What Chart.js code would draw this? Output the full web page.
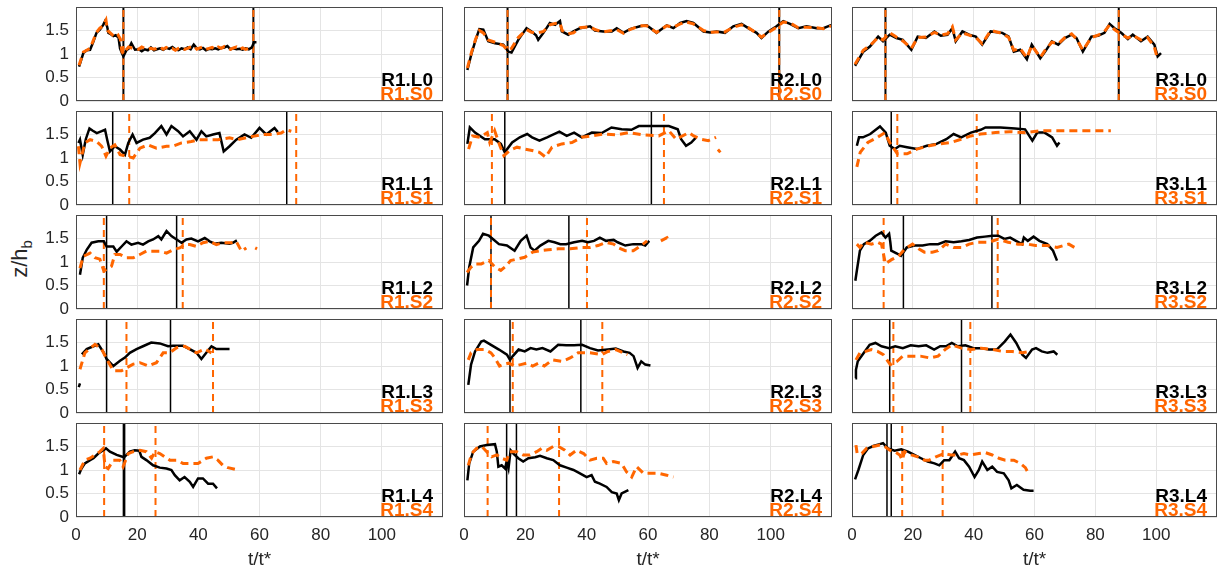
<!DOCTYPE html>
<html>
<head>
<meta charset="utf-8">
<script src="https://cdn.jsdelivr.net/npm/chart.js@4.4.1/dist/chart.umd.min.js"></script>
<style>
  body { margin: 0; background: #fff; }
  #wrap { position: relative; width: 1218px; height: 572px; overflow: hidden; font-family: "Liberation Sans", Arial, sans-serif; }
  #wrap canvas { position: absolute; }
  #ylab { position: absolute; left: 21px; top: 259px; transform: translate(-50%, -50%) rotate(-90deg); white-space: nowrap; font-size: 22px; color: #262626; }
  #ylab sub { font-size: 15px; }
</style>
</head>
<body>
<div id="wrap"><div id="ylab">z/h<sub>b</sub></div></div>
<script>
// axis ticks
const xTicks = [0, 20, 40, 60, 80, 100];
const yTicks = [0, 0.5, 1, 1.5];
const xMax = 120, yMax = 2;

// ---- R1 (left column) ----
const r1L0 = [[1,0.73],[2.4,1.02],[3.5,1.08],[4.6,1.09],[5.6,1.25],[6.7,1.45],[7.8,1.52],[8.9,1.62],[9.5,1.7],[10.2,1.58],[10.6,1.45],[11.4,1.42],[12.2,1.38],[13,1.4],[13.9,1.35],[14.4,1.12],[15,1.02],[15.5,0.95],[16.5,1.08],[17.3,1.12],[18.1,1.23],[19.3,1.09],[20.5,1.1],[21.5,1.06],[22.5,1.1],[23.5,1.08],[24.5,1.14],[25.5,1.08],[26.5,1.1],[27.5,1.12],[28.5,1.09],[29.5,1.13],[30.5,1.11],[31.5,1.15],[32.5,1.1],[33.5,1.08],[34.5,1.12],[35.5,1.1],[36.5,1.14],[37.5,1.1],[38.5,1.2],[39.5,1.12],[40.5,1.1],[41.5,1.13],[42.5,1.08],[43.5,1.11],[44.5,1.1],[45.5,1.12],[46.5,1.1],[47.5,1.13],[48.5,1.14],[49.5,1.17],[50.5,1.1],[51.5,1.12],[52.5,1.1],[53.5,1.11],[54.5,1.09],[55.5,1.12],[56.5,1.1],[57.5,1.14],[58.2,1.25],[59,1.25]];
const r1S0 = [[1,0.76],[2.4,1.04],[3.5,1.08],[4.6,1.12],[5.6,1.28],[6.7,1.46],[7.8,1.55],[8.9,1.6],[9.8,1.72],[10.3,1.5],[11.2,1.45],[12,1.4],[13,1.35],[13.8,1.4],[14.5,1.32],[15,1.05],[15.6,1.0],[16.2,1.08],[17.2,1.15],[18.5,1.12],[19.5,1.12],[20.5,1.1],[21.5,1.15],[22.5,1.12],[23.5,1.1],[24.5,1.12],[25.5,1.1],[26.5,1.12],[27.5,1.15],[28.5,1.1],[29.5,1.14],[30.5,1.1],[31.5,1.12],[32.5,1.08],[33.5,1.12],[34.5,1.14],[35.5,1.1],[36.5,1.12],[37.5,1.15],[38.5,1.17],[39.5,1.1],[40.5,1.13],[41.5,1.15],[42.5,1.1],[43.5,1.12],[44.5,1.14],[45.5,1.1],[46.5,1.15],[47.5,1.12],[48.5,1.16],[49.5,1.12],[50.5,1.1],[51.5,1.13],[52.5,1.15],[53.5,1.1],[54.5,1.13],[55.5,1.1],[56.5,1.12],[57.5,1.16]];
const r1L0v = [15.5, 58];
const r1S0v = [15.5, 58];

const r1L1 = [[0.8,1.32],[1.3,1.39],[2.2,1.07],[3.2,1.4],[4.4,1.63],[5.5,1.58],[6.8,1.53],[8.4,1.57],[9.5,1.6],[10.2,1.39],[11.1,1.14],[12.7,1.25],[14.4,1.18],[16,1.07],[17.1,1.32],[18.5,1.5],[19.8,1.32],[21.9,1.39],[24.1,1.43],[25.8,1.53],[27.9,1.68],[29.6,1.5],[31.2,1.68],[33.4,1.57],[35,1.46],[37.2,1.57],[39.4,1.39],[41,1.57],[42.6,1.46],[44.8,1.5],[46.9,1.53],[48.3,1.14],[50.2,1.25],[52.4,1.39],[55.1,1.5],[57.3,1.43],[60,1.64],[62.2,1.5],[64.9,1.64],[66,1.55]];
const r1S1 = [[0.8,1.25],[1.3,0.89],[2.9,1.32],[4.6,1.39],[6.8,1.35],[8.4,1.25],[9.8,1.04],[11.1,1.21],[12.7,1.28],[14.4,1.07],[16.5,1.04],[18.7,1.0],[20.9,1.21],[23.6,1.28],[26.3,1.21],[29.6,1.25],[31.7,1.25],[34.5,1.32],[37.7,1.35],[40.4,1.39],[43.2,1.39],[46.4,1.39],[50.2,1.43],[52.9,1.39],[55.6,1.43],[57.8,1.46],[61.1,1.5],[64.3,1.5],[67.1,1.53],[68.7,1.6],[70.4,1.57]];
const r1L1v = [12.0, 68.9];
const r1S1v = [17.4, 72.0];

const r1L2 = [[1.3,0.73],[2.2,1.09],[3.5,1.26],[5.1,1.41],[7.3,1.44],[9.1,1.44],[10,1.33],[12.2,1.33],[13.3,1.22],[14.9,1.33],[16.5,1.44],[18.1,1.37],[20.3,1.41],[21.9,1.37],[23.6,1.44],[25.2,1.48],[26.9,1.55],[27.9,1.48],[29.6,1.66],[31.2,1.55],[32.9,1.48],[34.5,1.41],[36.1,1.48],[37.7,1.5],[39.9,1.44],[42.1,1.51],[43.7,1.44],[45.3,1.39],[47.5,1.41],[50.2,1.39],[51.3,1.41],[52.6,1.46]];
const r1S2 = [[1.3,0.87],[1.9,1.01],[2.4,1.12],[4.6,1.19],[6.2,1.09],[7.8,1.06],[9.1,0.81],[10.6,0.87],[11.6,0.91],[12.7,1.16],[14.4,1.16],[16.5,1.09],[18.7,1.09],[20.9,1.16],[23,1.23],[24.6,1.23],[27.4,1.23],[29.6,1.19],[31.7,1.26],[33.9,1.3],[35.6,1.37],[37.2,1.37],[39.4,1.33],[41.5,1.41],[43.7,1.44],[45.9,1.37],[48.1,1.41],[50.8,1.41],[52.4,1.44],[54.1,1.23],[55.7,1.3],[57,null],[58.6,1.3],[59.2,1.28]];
const r1L2v = [10.0, 32.9];
const r1S2v = [9.1, 34.9];

const r1L3 = [[0.9,0.55],[1.3,0.63],[1.5,null],[1.9,1.25],[3.5,1.36],[5.7,1.42],[7.3,1.46],[9.1,1.28],[10,1.15],[12.2,1.0],[14.4,1.11],[16,1.18],[17.6,1.28],[19.8,1.36],[21.9,1.42],[24.6,1.5],[27.4,1.48],[30.1,1.42],[31.7,1.43],[35,1.43],[37.2,1.36],[39.4,1.28],[41,1.15],[42.6,1.28],[44.3,1.42],[45.9,1.36],[48.1,1.36],[50.2,1.36]];
const r1S3 = [[1.3,0.93],[2.9,1.28],[6.2,1.46],[8.4,1.36],[10,1.15],[12.2,0.9],[14.9,0.9],[18.7,1.04],[20.9,1.07],[23.6,1.0],[26.3,1.07],[28.5,1.28],[30.6,1.28],[32.9,1.39],[35.6,1.42],[37.2,1.36],[39.4,1.28],[42.1,1.36],[44.3,1.28]];
const r1L3v = [10.0, 30.9];
const r1S3v = [16.5, 44.8];

const r1L4 = [[1,0.91],[1.8,1.03],[2.9,1.14],[4.6,1.21],[5.7,1.25],[7.3,1.35],[8.9,1.42],[9.8,1.46],[11.1,1.39],[13.3,1.32],[15.7,1.27],[17.6,1.39],[19.2,1.42],[20.7,1.41],[21.4,1.28],[23,1.21],[25.2,1.1],[27.4,1.05],[29.6,1.03],[31.2,1.0],[32.3,0.89],[33.9,0.78],[35.5,0.85],[37.2,0.75],[38.3,0.64],[39.9,0.82],[41.5,0.82],[43.2,0.71],[44.8,0.71],[46.1,0.61]];
const r1S4 = [[1.3,1.0],[2.9,1.21],[4.6,1.25],[6.2,1.32],[7.8,1.39],[8.9,1.46],[9.5,1.07],[10.5,1.03],[12.2,1.21],[14.3,1.21],[15.4,1.07],[17.1,1.35],[18.7,1.39],[20.9,1.42],[23,1.39],[24.7,1.25],[25.8,1.39],[27.4,1.35],[29,1.28],[30.7,1.21],[32.8,1.21],[35,1.14],[37.2,1.14],[39.9,1.14],[42.6,1.25],[44.8,1.28],[46.4,1.21],[48,1.1],[49.7,1.05],[52.4,1.01]];
const r1L4v = [15.5, 15.9];
const r1S4v = [9.2, 26.0];

// ---- R2 (middle column) ----
const r2L0 = [[1.1,0.66],[2.5,1.02],[3.8,1.3],[5,1.53],[6.3,1.52],[7.9,1.27],[10.1,1.23],[12.8,1.2],[14.5,1.05],[15.5,1.03],[17.7,1.3],[20.4,1.55],[22,1.48],[23.5,1.4],[24.2,1.3],[25.9,1.45],[28,1.66],[29.7,1.62],[31.3,1.7],[31.9,1.48],[34,1.41],[35.7,1.48],[37.8,1.55],[41.1,1.59],[42.7,1.5],[45.4,1.48],[48.2,1.48],[49.8,1.55],[52,1.45],[54.1,1.53],[57.4,1.59],[59.6,1.61],[62.8,1.45],[66.1,1.61],[68.3,1.55],[70.5,1.66],[72.6,1.7],[74.8,1.66],[78.1,1.48],[80.3,1.46],[82.4,1.48],[85.1,1.45],[87.8,1.59],[90.5,1.64],[92.7,1.55],[95.4,1.45],[97,1.34],[99.3,1.48],[101.9,1.59],[104.1,1.7],[106.3,1.64],[109,1.55],[111.7,1.59],[115,1.55],[117.2,1.55],[119.9,1.62]];
const r2S0 = [[1.1,0.7],[2.5,1.05],[3.8,1.32],[5,1.5],[6.3,1.45],[7.9,1.3],[10.1,1.25],[12.8,1.18],[14.2,1.08],[15.5,1.12],[17.7,1.35],[20.4,1.52],[22,1.46],[24.2,1.45],[25.9,1.48],[28,1.62],[29.7,1.65],[31.3,1.66],[32,1.5],[34,1.43],[35.7,1.45],[37.8,1.56],[41.1,1.58],[42.7,1.52],[45.4,1.47],[48.2,1.5],[49.8,1.52],[52,1.44],[54.1,1.52],[57.4,1.6],[59.6,1.6],[62.8,1.46],[66.1,1.6],[68.3,1.57],[70.5,1.64],[72.6,1.68],[74.8,1.64],[78.1,1.5],[80.3,1.46],[82.4,1.47],[85.1,1.47],[87.8,1.57],[90.5,1.62],[92.7,1.56],[95.4,1.44],[97,1.36],[99.3,1.46],[101.9,1.57],[104.1,1.68],[106.3,1.66],[109,1.56],[111.7,1.57],[115,1.56],[117.2,1.54],[119.9,1.6]];
const r2L0v = [14.2, 102.8];
const r2S0v = [14.2, 102.8];

const r2L1 = [[1.1,1.3],[1.9,1.65],[3.6,1.54],[6.8,1.4],[10,1.4],[12,1.3],[13.3,1.12],[15.7,1.33],[18.2,1.44],[20.6,1.51],[22.2,1.44],[24.6,1.37],[27.1,1.44],[31.1,1.56],[33.5,1.47],[35.9,1.54],[38.4,1.44],[41.7,1.54],[44.9,1.53],[48.1,1.65],[51.4,1.61],[54.6,1.6],[57,1.68],[61.9,1.68],[66.8,1.68],[69.7,1.61],[70.8,1.4],[72.4,1.26],[74.1,1.33],[75.7,1.44]];
const r2S1 = [[1.5,1.19],[2.8,1.47],[5.2,1.44],[7.6,1.54],[8.4,1.33],[10,1.58],[11.7,1.26],[13,1.05],[14.9,1.16],[17.3,1.23],[19.8,1.19],[22.2,1.16],[24.6,1.12],[26.6,1.02],[28.7,1.23],[31.9,1.3],[35.2,1.33],[38.4,1.44],[41.7,1.47],[45.7,1.51],[49.8,1.49],[53.8,1.54],[58.7,1.49],[63.5,1.47],[66.8,1.58],[69.2,1.4],[73.3,1.54],[74.9,1.47],[77.3,1.4],[79.7,1.37],[82.2,1.44],[82.5,null],[82.8,1.18],[83.6,1.12]];
const r2L1v = [13.3, 61.1];
const r2S1v = [9.1, 65.2];

const r2L2 = [[1,0.5],[1.7,0.89],[3,1.31],[4.9,1.45],[6.2,1.6],[8.1,1.56],[9.4,1.49],[11.4,1.38],[14,1.35],[16.5,1.24],[18.5,1.45],[20.4,1.56],[21.7,1.31],[23,1.24],[24.9,1.35],[27.5,1.45],[29.5,1.42],[31.4,1.38],[33.3,1.38],[35.9,1.42],[38.5,1.45],[40.4,1.42],[42.4,1.45],[44.3,1.52],[46.3,1.45],[48.8,1.47],[50.1,1.42],[52.6,1.35],[55.2,1.38],[57.8,1.38],[59.1,1.35],[60.4,1.45]];
const r2S2 = [[1,0.78],[2.3,0.89],[3.6,0.96],[5.6,0.96],[8.1,1.03],[10.1,0.89],[12,0.82],[13.3,0.89],[15.2,1.03],[17.2,1.06],[19.8,1.1],[22.4,1.21],[24.9,1.24],[27.5,1.26],[30.7,1.28],[34.6,1.28],[38.5,1.31],[41.1,1.31],[43.7,1.35],[46.3,1.42],[48.8,1.38],[50.5,1.3],[52.6,1.24],[55.2,1.24],[58.4,1.38],[59.7,1.45],[62,null],[64.2,1.45],[66.2,1.52],[66.8,1.47]];
const r2L2v = [8.8, 34.2];
const r2S2v = [8.8, 40.1];

const r2L3 = [[1.4,0.6],[2.3,1.03],[3.6,1.31],[5.6,1.52],[6.5,1.54],[8.8,1.45],[11.4,1.35],[14,1.24],[15,1.13],[15.9,1.21],[17.8,1.35],[19.8,1.31],[21.7,1.38],[23.6,1.35],[25.6,1.38],[28.2,1.31],[30.7,1.45],[33.3,1.44],[35.9,1.44],[38.5,1.45],[41.1,1.38],[43.7,1.33],[46.9,1.35],[49.5,1.37],[52,1.31],[54,1.28],[55.3,1.21],[56.6,0.96],[57.8,1.1],[59.1,1.03],[60.8,1.01]];
const r2S3 = [[1.4,1.13],[2.3,1.28],[4.3,1.35],[6.8,1.35],[8.8,1.28],[10.1,1.17],[11.6,1.0],[12.7,1.03],[14.6,1.06],[16.5,1.0],[18.5,1.03],[20.4,1.06],[22.4,1.0],[24.3,1.06],[26.2,1.0],[28.8,1.13],[32,1.1],[34.6,1.17],[37.2,1.28],[41.1,1.28],[45,1.24],[46.9,1.31],[49.5,1.35],[52,1.28],[53.3,1.24]];
const r2L3v = [15.0, 38.1];
const r2S3v = [15.9, 45.1];

const r2L4 = [[1.1,0.78],[1.7,1.14],[3,1.39],[5.2,1.5],[7.4,1.53],[10.1,1.55],[10.7,1.39],[11.2,1.07],[12.3,1.1],[13.4,1.03],[13.9,1.18],[14.5,1.03],[15.2,1.42],[16.1,1.35],[17.7,1.25],[19.3,1.18],[21,1.25],[23.2,1.27],[24.8,1.3],[27,1.25],[29.1,1.21],[31.3,1.1],[33.5,1.05],[35.7,1.0],[37.8,0.93],[40,0.85],[41.6,0.89],[42.7,0.75],[44.3,0.71],[46.5,0.64],[48.2,0.53],[49.8,0.5],[50.5,0.36],[51.4,0.5],[53.6,0.57]];
const r2S4 = [[1.4,1.1],[2.5,1.35],[4.1,1.46],[5.8,1.5],[7.4,1.39],[9,1.28],[10.7,1.32],[12.3,1.25],[13.9,1.21],[15,1.39],[17.2,1.39],[19.3,1.32],[21.5,1.32],[23.7,1.39],[25.3,1.46],[27,1.42],[29.1,1.5],[30.8,1.5],[32.9,1.42],[34.6,1.32],[36.7,1.42],[39,1.35],[41.1,1.21],[43.3,1.25],[45.4,1.25],[46.5,1.14],[48.7,1.18],[51.4,1.14],[53,0.96],[54.7,0.85],[56.3,1.07],[58.5,0.93],[60.7,0.93],[63.4,0.93],[66.1,0.89],[68.3,0.85]];
const r2L4v = [13.9, 17.1];
const r2S4v = [7.7, 31.0];

// ---- R3 (right column) ----
const r3L0 = [[1,0.75],[3.7,1.05],[5.9,1.16],[8.6,1.37],[10.2,1.27],[12.4,1.41],[14.6,1.34],[16.7,1.3],[19.5,1.09],[21.6,1.37],[24.3,1.34],[27.1,1.48],[29.2,1.39],[31.4,1.41],[33,1.55],[34.1,1.27],[36.3,1.48],[38.5,1.41],[40.7,1.37],[42.8,1.2],[45.6,1.48],[49.4,1.45],[51.5,1.37],[53.2,1.05],[55.3,1.09],[57.5,0.89],[59.1,1.2],[61.9,0.91],[63.5,1.05],[65.7,1.27],[67.8,1.2],[70,1.34],[72.2,1.41],[73.8,1.34],[75.9,1.05],[78.7,1.37],[80.9,1.39],[83,1.45],[84.7,1.64],[86.3,1.55],[88.5,1.45],[90.7,1.32],[92.3,1.41],[95,1.27],[97.2,1.37],[99.4,1.2],[100.5,0.95],[101.6,1.02]];
const r3S0 = [[1,0.78],[3.7,1.08],[5.9,1.18],[8.6,1.35],[10.2,1.3],[12.4,1.45],[14.6,1.36],[16.7,1.28],[19.5,1.12],[21.6,1.35],[24.3,1.36],[27.1,1.46],[29.2,1.4],[31.4,1.43],[33,1.58],[34.1,1.3],[36.3,1.45],[38.5,1.4],[40.7,1.35],[42.8,1.22],[45.6,1.5],[49.4,1.44],[51.5,1.35],[53.2,1.08],[55.3,1.12],[57.5,0.92],[59.1,1.18],[61.9,0.93],[63.5,1.08],[65.7,1.25],[67.8,1.22],[70,1.35],[72.2,1.43],[73.8,1.32],[75.9,1.08],[78.7,1.35],[80.9,1.4],[83,1.48],[84.7,1.62],[86.3,1.52],[88.5,1.42],[90.7,1.34],[92.3,1.4],[95,1.3],[97.2,1.35],[99.4,1.15],[100.3,0.93]];
const r3L0v = [11.0, 87.7];
const r3S0v = [11.0, 87.7];

const r3L1 = [[1.6,1.26],[2.3,1.44],[3.6,1.44],[6,1.51],[9.2,1.67],[11.1,1.54],[12.4,1.26],[14.1,1.19],[15.7,1.26],[18.1,1.23],[21.3,1.19],[24.6,1.26],[27.8,1.3],[31,1.4],[33.4,1.51],[35.9,1.44],[39.1,1.54],[42.3,1.6],[43.9,1.65],[48.8,1.65],[53.6,1.63],[56.9,1.61],[59.3,1.37],[60.9,1.54],[63.3,1.54],[65.8,1.44],[67.4,1.26],[68.2,1.33]];
const r3S1 = [[1.6,0.81],[2.7,1.12],[5.2,1.33],[8.4,1.44],[10.8,1.54],[12.4,1.33],[14.9,1.09],[18.1,1.09],[21.3,1.19],[25.4,1.26],[28.6,1.3],[32.6,1.33],[35.9,1.4],[39.1,1.47],[42.3,1.51],[47.2,1.54],[52,1.56],[56.9,1.54],[61.7,1.58],[69.8,1.58],[76.3,1.58],[85.1,1.58]];
const r3L1v = [12.9, 55.3];
const r3S1v = [14.9, 41.0];

const r3L2 = [[1.1,0.6],[1.6,0.82],[2.6,1.24],[3.9,1.38],[5.8,1.45],[7.8,1.56],[9.7,1.63],[11,1.52],[12.2,1.6],[12.6,1.42],[12.9,1.24],[14.8,1.18],[16.1,1.13],[18,1.31],[20.6,1.35],[23.2,1.35],[25.7,1.38],[28.3,1.38],[30.8,1.44],[33.4,1.42],[36,1.44],[38.5,1.47],[41.1,1.52],[43.7,1.54],[46.2,1.56],[48.1,1.56],[50.1,1.49],[52,1.52],[53.9,1.45],[55.9,1.38],[56.5,1.52],[57.8,1.45],[59.7,1.54],[61.6,1.45],[64.2,1.38],[66.1,1.24],[67.4,1.03]];
const r3S2 = [[1.6,1.38],[2.6,1.31],[3.9,1.42],[6.4,1.38],[8.4,1.42],[9.7,1.38],[11,0.96],[11.6,0.99],[13,1.05],[15.4,1.13],[17.4,1.28],[19.9,1.38],[21.9,1.28],[23.8,1.21],[26.4,1.21],[28.3,1.24],[30.8,1.38],[33.4,1.31],[36,1.31],[38.5,1.38],[41.1,1.42],[45,1.42],[48.1,1.49],[51.3,1.42],[54.5,1.38],[57.8,1.38],[60.3,1.35],[64.2,1.35],[67.4,1.31],[71.3,1.38],[73.9,1.28]];
const r3L2v = [16.9, 46.0];
const r3S2v = [10.4, 47.9];

const r3L3 = [[1.1,0.74],[1.3,0.92],[1.9,1.1],[3.9,1.28],[5.8,1.45],[7.7,1.49],[9.7,1.42],[12.2,1.38],[14.2,1.42],[16.7,1.38],[19.3,1.44],[21.9,1.42],[24.4,1.44],[27,1.35],[29,1.42],[30.9,1.42],[32.8,1.49],[34.8,1.42],[37.3,1.44],[39.9,1.38],[42.5,1.38],[45,1.35],[47.6,1.35],[50.2,1.52],[52.1,1.67],[54,1.49],[56,1.24],[57.2,1.17],[59.2,1.35],[60.5,1.38],[62.4,1.31],[64.3,1.28],[66.3,1.31],[67.5,1.24]];
const r3S3 = [[1.3,1.13],[2.6,1.28],[4.5,1.31],[6.4,1.35],[8.4,1.31],[10.3,1.24],[12.6,1.03],[14.8,1.1],[16.7,1.21],[19.3,1.21],[22.5,1.21],[25.7,1.17],[28.3,1.21],[30.6,1.35],[32.8,1.45],[36,1.38],[39.2,1.35],[42.5,1.38],[46.3,1.35],[49.5,1.31],[52.7,1.31],[56,1.28],[58.5,1.31]];
const r3L3v = [12.4, 36.0];
const r3S3v = [13.6, 38.9];

const r3L4 = [[1,0.8],[2.1,1.0],[3.7,1.32],[5.3,1.46],[7,1.51],[9.1,1.55],[10.2,1.57],[11.8,1.46],[14,1.41],[16.2,1.44],[18.4,1.39],[20.5,1.32],[22.7,1.25],[24.9,1.18],[27.1,1.14],[28.7,1.1],[30.3,1.21],[32,1.21],[33.9,1.39],[35.2,1.25],[36.8,1.21],[38.5,1.07],[40.3,0.85],[41.7,1.0],[42.8,1.18],[44.5,1.0],[46.1,1.07],[47.7,0.96],[49.9,0.93],[51.5,0.78],[52.4,0.61],[54.2,0.68],[56.4,0.58],[58.6,0.56],[59.7,0.56]];
const r3S4 = [[1.3,1.53],[1.7,1.35],[3.2,1.35],[4.8,1.46],[7,1.5],[9.1,1.53],[10.8,1.5],[12.4,1.42],[14,1.39],[15.7,1.32],[16.5,1.21],[17.3,1.39],[19.5,1.32],[21.6,1.28],[23.8,1.21],[25.4,1.21],[27.6,1.28],[30.3,1.35],[32.5,1.32],[34.7,1.32],[36.8,1.35],[39,1.32],[41.7,1.35],[43.9,1.37],[46.1,1.32],[48.3,1.25],[50.4,1.21],[53.2,1.21],[55.3,1.14],[57,1.05],[58,0.93]];
const r3L4v = [11.5, 12.9];
const r3S4v = [16.5, 29.8];

const ORANGE = '#ff6600';
const INK = '#262626';
const FONT = '"Liberation Sans", Arial, Helvetica, sans-serif';

Chart.defaults.font.family = FONT;

// grid placement of the 15 axes
const colLeft = [76, 464, 852];
const colWidth = [367, 368, 365];
const rowTop = [7, 111, 215, 319, 423];
const plotH = 94;

const panels = [
  [r1L0, r1S0, r1L0v, r1S0v], [r1L1, r1S1, r1L1v, r1S1v], [r1L2, r1S2, r1L2v, r1S2v], [r1L3, r1S3, r1L3v, r1S3v], [r1L4, r1S4, r1L4v, r1S4v],
  [r2L0, r2S0, r2L0v, r2S0v], [r2L1, r2S1, r2L1v, r2S1v], [r2L2, r2S2, r2L2v, r2S2v], [r2L3, r2S3, r2L3v, r2S3v], [r2L4, r2S4, r2L4v, r2S4v],
  [r3L0, r3S0, r3L0v, r3S0v], [r3L1, r3S1, r3L1v, r3S1v], [r3L2, r3S2, r3L2v, r3S2v], [r3L3, r3S3, r3L3v, r3S3v], [r3L4, r3S4, r3L4v, r3S4v]
];

const toXY = arr => arr.map(([x, y]) => ({ x: x, y: y }));

// box + the two run labels in the lower right corner
const panelDecor = {
  id: 'panelDecor',
  afterDatasetsDraw(chart, args, opts) {
    const { ctx, chartArea: a } = chart;
    ctx.save();
    ctx.font = 'bold 19px ' + FONT;
    ctx.textAlign = 'right';
    ctx.textBaseline = 'alphabetic';
    ctx.fillStyle = '#000';
    ctx.fillText(opts.top, a.right - 10, a.bottom - 15);
    ctx.fillStyle = ORANGE;
    ctx.fillText(opts.bottom, a.right - 10, a.bottom - 1);
    ctx.strokeStyle = '#4a4a4a';
    ctx.lineWidth = 1;
    ctx.strokeRect(Math.round(a.left) + 0.5, Math.round(a.top) + 0.5, Math.round(a.width) - 1, Math.round(a.height) - 1);
    ctx.restore();
  }
};

const wrap = document.getElementById('wrap');

panels.forEach((p, i) => {
  const col = Math.floor(i / 5), row = i % 5;
  const [L, S, vL, vS] = p;
  const yW = col === 0 ? 76 : 14;
  const xH = row === 4 ? 55 : (col === 0 ? 12 : 2);
  const padT = 2, padR = 2;

  const canvas = document.createElement('canvas');
  canvas.width = yW + colWidth[col] + padR;
  canvas.height = padT + plotH + xH;
  canvas.style.left = (colLeft[col] - yW) + 'px';
  canvas.style.top = (rowTop[row] - padT) + 'px';
  wrap.appendChild(canvas);

  const ds = [];
  vL.forEach(v => ds.push({ data: [{ x: v, y: 0 }, { x: v, y: yMax }], borderColor: '#000', borderWidth: row === 0 ? 2 : 1.5, order: 4 }));
  vS.forEach(v => ds.push({ data: [{ x: v, y: 0 }, { x: v, y: yMax }], borderColor: ORANGE, borderWidth: 2, borderDash: [7, 5], order: 3 }));
  ds.push({ data: toXY(L), borderColor: '#000', borderWidth: 2.5, order: 2 });
  ds.push({ data: toXY(S), borderColor: ORANGE, borderWidth: 3, borderDash: [8, 5], order: 1 });

  new Chart(canvas, {
    type: 'line',
    data: { datasets: ds },
    plugins: [panelDecor],
    options: {
      responsive: false,
      animation: false,
      events: [],
      layout: { padding: { top: padT, right: padR, left: 0, bottom: 0 } },
      elements: { point: { radius: 0 }, line: { tension: 0, fill: false, borderCapStyle: 'butt' } },
      plugins: {
        legend: { display: false },
        tooltip: { enabled: false },
        panelDecor: { top: 'R' + (col + 1) + '.L' + row, bottom: 'R' + (col + 1) + '.S' + row }
      },
      scales: {
        x: {
          type: 'linear', min: 0, max: xMax,
          afterBuildTicks: s => { s.ticks = xTicks.map(v => ({ value: v })); },
          afterFit: s => { s.height = xH; s.paddingLeft = 0; s.paddingRight = 0; },
          grid: { color: '#e4e4e4', drawTicks: false },
          border: { display: false },
          ticks: { display: row === 4, color: INK, font: { size: 17 }, padding: 8, maxRotation: 0, autoSkip: false },
          title: { display: row === 4, text: 't/t*', color: INK, font: { size: 19 }, padding: { top: 0, bottom: 1 } }
        },
        y: {
          type: 'linear', min: 0, max: yMax,
          afterBuildTicks: s => { s.ticks = yTicks.map(v => ({ value: v })); },
          afterFit: s => { s.width = yW; s.paddingTop = 0; s.paddingBottom = 0; },
          grid: { color: '#e4e4e4', drawTicks: false },
          border: { display: false },
          ticks: { display: col === 0, color: INK, font: { size: 17 }, padding: 7, callback: v => String(v) }
        }
      }
    }
  });
});
</script>
</body>
</html>
